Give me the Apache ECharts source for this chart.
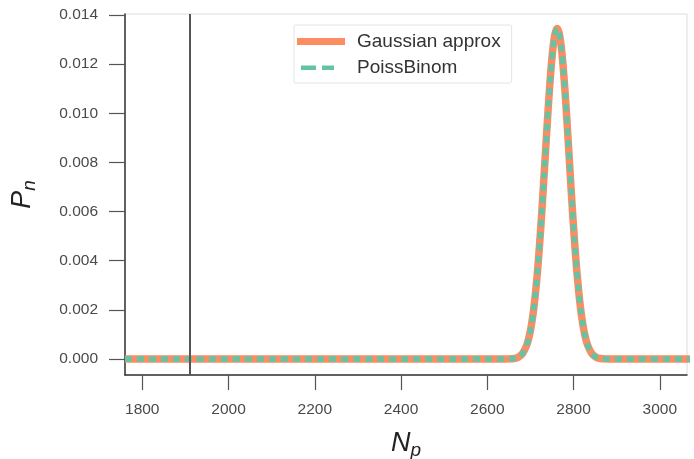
<!DOCTYPE html>
<html>
<head>
<meta charset="utf-8">
<script src="https://cdn.jsdelivr.net/npm/echarts@6/dist/echarts.min.js"></script>
<style>
  html, body { margin: 0; padding: 0; background: #fff; }
  #main { width: 694px; height: 459px; }
</style>
</head>
<body>
<div id="main"></div>
<script>
// N_p values along the curve
var npValues = [1760, 2600, 2642, 2652, 2662, 2672, 2682, 2692, 2697, 2702, 2707, 2712, 2717,
	2722, 2727, 2732, 2737, 2742, 2747, 2752, 2757, 2762, 2767, 2772, 2777, 2782, 2787,
	2792, 2797, 2802, 2807, 2812, 2817, 2822, 2827, 2832, 2842, 2852, 2862, 2872, 2882, 2920, 3070];
// P_n, Gaussian approximation
var gaussP = [0, 0, 0.0000014, 0.000006, 0.000023, 0.000077, 0.000227, 0.000591, 0.000909,
	0.001354, 0.001954, 0.002731, 0.003697, 0.004848, 0.006158, 0.007576, 0.009029, 0.010421,
	0.011652, 0.012619, 0.013237, 0.01345, 0.013237, 0.012619, 0.011652, 0.010421, 0.009029,
	0.007576, 0.006158, 0.004848, 0.003697, 0.002731, 0.001954, 0.001354, 0.000909, 0.000591,
	0.000227, 0.000077, 0.000023, 0.000006, 0.0000014, 0, 0];
// P_n, Poisson binomial (same as the gaussian at this scale)
var poissP = gaussP.slice();
var xTicks = [1800, 2000, 2200, 2400, 2600, 2800, 3000];
var yTicks = [0, 0.002, 0.004, 0.006, 0.008, 0.010, 0.012, 0.014];
var vlineX = [1911];

function pairs(xs, ys) {
	var out = [];
	for (var i = 0; i < xs.length; i++) {
		out.push([xs[i], ys[i]]);
	}
	return out;
}

var dom = document.getElementById('main');
var myChart = echarts.init(dom);
var font = 'Liberation Sans';

// legend handles: the zero-length moves pin the box to 55x10
var solidIcon = 'path://M0,0L0,0M55,10L55,10M0,1.5h48v7h-48z';
var dashIcon = 'path://M0,0L0,0M55,10L55,10M4,3h15v4.5h-15zM25,3h12v4.5h-12z';

option = {
	animation: false,
	textStyle: { fontFamily: font },
	grid: {
		left: 125, right: 7, top: 14, bottom: 84,
		outerBoundsMode: 'none',
		show: true, borderColor: '#dcdcdc', borderWidth: 1
	},
	legend: {
		left: 294, top: 25,
		orient: 'vertical',
		itemWidth: 55, itemHeight: 10, itemGap: 7,
		padding: [7, 11, 6, 3],
		borderColor: '#e4e4e4', borderWidth: 1, borderRadius: 2,
		textStyle: { fontSize: 19, color: '#333', fontFamily: font },
		data: [
			{ name: 'Gaussian approx', icon: solidIcon, itemStyle: { color: '#fc8d62' } },
			{ name: 'PoissBinom', icon: dashIcon, itemStyle: { color: '#66c2a5' } }
		]
	},
	xAxis: {
		type: 'value',
		min: 1760, max: 3063,
		name: 'N{s|p}',
		nameLocation: 'middle',
		nameGap: 52,
		nameTextStyle: {
			fontSize: 27, fontStyle: 'italic', color: '#222', fontFamily: font,
			rich: { s: { fontSize: 19, fontStyle: 'italic', color: '#222', padding: [14, 0, 0, 0] } }
		},
		axisLine: { onZero: false, lineStyle: { color: '#333', width: 1.5 } },
		axisTick: { customValues: xTicks, length: 15, lineStyle: { color: '#555', width: 1.2 } },
		axisLabel: {
			customValues: xTicks, margin: 27, fontSize: 15.5, color: '#4a4a4a',
			formatter: function (v) { return String(v); }
		},
		splitLine: { show: false }
	},
	yAxis: {
		type: 'value',
		min: -0.00065, max: 0.01404,
		name: 'P{s|n}',
		nameLocation: 'middle',
		nameGap: 86,
		nameRotate: 90,
		nameTextStyle: {
			fontSize: 27, fontStyle: 'italic', color: '#222', fontFamily: font,
			rich: { s: { fontSize: 19, fontStyle: 'italic', color: '#222', padding: [14, 0, 0, 0] } }
		},
		axisLine: { onZero: false, lineStyle: { color: '#333', width: 1.5 } },
		axisTick: { customValues: yTicks, length: 16, lineStyle: { color: '#555', width: 1.2 } },
		axisLabel: {
			customValues: yTicks, margin: 27, fontSize: 15.5, color: '#4a4a4a',
			formatter: function (v) { return v.toFixed(3); }
		},
		splitLine: { show: false }
	},
	series: [
		{
			name: 'Gaussian approx',
			type: 'line',
			symbol: 'none',
			smooth: 0.3,
			lineStyle: { color: '#fc8d62', width: 7.5 },
			itemStyle: { color: '#fc8d62' },
			data: pairs(npValues, gaussP),
			markLine: {
				silent: true,
				symbol: 'none',
				label: { show: false },
				lineStyle: { color: '#555', width: 2, type: 'solid' },
				data: [{ xAxis: vlineX[0] }]
			},
			z: 2
		},
		{
			name: 'PoissBinom',
			type: 'line',
			symbol: 'none',
			smooth: 0.3,
			lineStyle: { color: '#66c2a5', width: 5.5, type: [7, 5] },
			itemStyle: { color: '#66c2a5' },
			data: pairs(npValues, poissP),
			z: 3
		}
	]
};
myChart.setOption(option);
</script>
</body>
</html>
